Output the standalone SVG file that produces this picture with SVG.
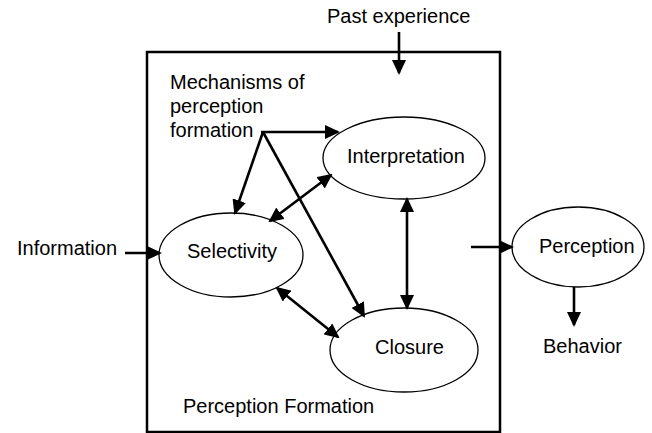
<svg xmlns="http://www.w3.org/2000/svg" width="652" height="433" viewBox="0 0 652 433">
<style>
text{font-family:"Liberation Sans",Arial,sans-serif;font-size:20px;fill:#000}
.node ellipse{fill:#fff;stroke:#000;stroke-width:1.3}
.box{fill:#fff;stroke:#000;stroke-width:2.5}
.conn line,.conn polyline{stroke:#000;stroke-width:2.6;fill:none}
</style>
<defs>
<marker id="ah" markerUnits="userSpaceOnUse" markerWidth="15" markerHeight="14" refX="13" refY="7" orient="auto-start-reverse" viewBox="0 0 15 14">
<path d="M0,0 L15,7 L0,14 z" fill="#000"/>
</marker>
</defs>
<rect id="frame" class="box" x="147" y="52" width="353" height="380"/>
<g id="past-experience"><text x="327" y="23">Past experience</text></g>
<g id="mechanisms"><text x="170" y="89">Mechanisms of</text><text x="170" y="113">perception</text><text x="170" y="137">formation</text></g>
<g id="information"><text x="17" y="255">Information</text></g>
<g id="perception-formation"><text x="183" y="413">Perception Formation</text></g>
<g id="interpretation" class="node"><ellipse cx="404" cy="158" rx="81" ry="41"/><text x="347" y="163">Interpretation</text></g>
<g id="selectivity" class="node"><ellipse cx="231" cy="255" rx="72" ry="42"/><text x="187" y="258">Selectivity</text></g>
<g id="closure" class="node"><ellipse cx="404" cy="350" rx="74" ry="42"/><text x="375" y="354">Closure</text></g>
<g id="perception" class="node"><ellipse cx="578" cy="247" rx="66" ry="40"/><text x="539" y="253">Perception</text></g>
<g id="behavior"><text x="543" y="353">Behavior</text></g>
<g class="conn" id="connectors">
<line x1="399" y1="32" x2="399" y2="73" marker-end="url(#ah)"/>
<line x1="125" y1="253" x2="160" y2="253" marker-end="url(#ah)"/>
<line x1="471" y1="247" x2="512" y2="247" marker-end="url(#ah)"/>
<line x1="574" y1="287" x2="574" y2="325" marker-end="url(#ah)"/>
<line x1="261" y1="132" x2="338" y2="132" marker-end="url(#ah)"/>
<line x1="263" y1="132" x2="235" y2="213" marker-end="url(#ah)"/>
<line x1="263" y1="132" x2="364" y2="316" marker-end="url(#ah)"/>
<line x1="270" y1="221" x2="331" y2="175" marker-start="url(#ah)" marker-end="url(#ah)"/>
<line x1="277" y1="288" x2="338" y2="337" marker-start="url(#ah)" marker-end="url(#ah)"/>
<line x1="407" y1="199" x2="407" y2="308" marker-start="url(#ah)" marker-end="url(#ah)"/>
</g>
</svg>
